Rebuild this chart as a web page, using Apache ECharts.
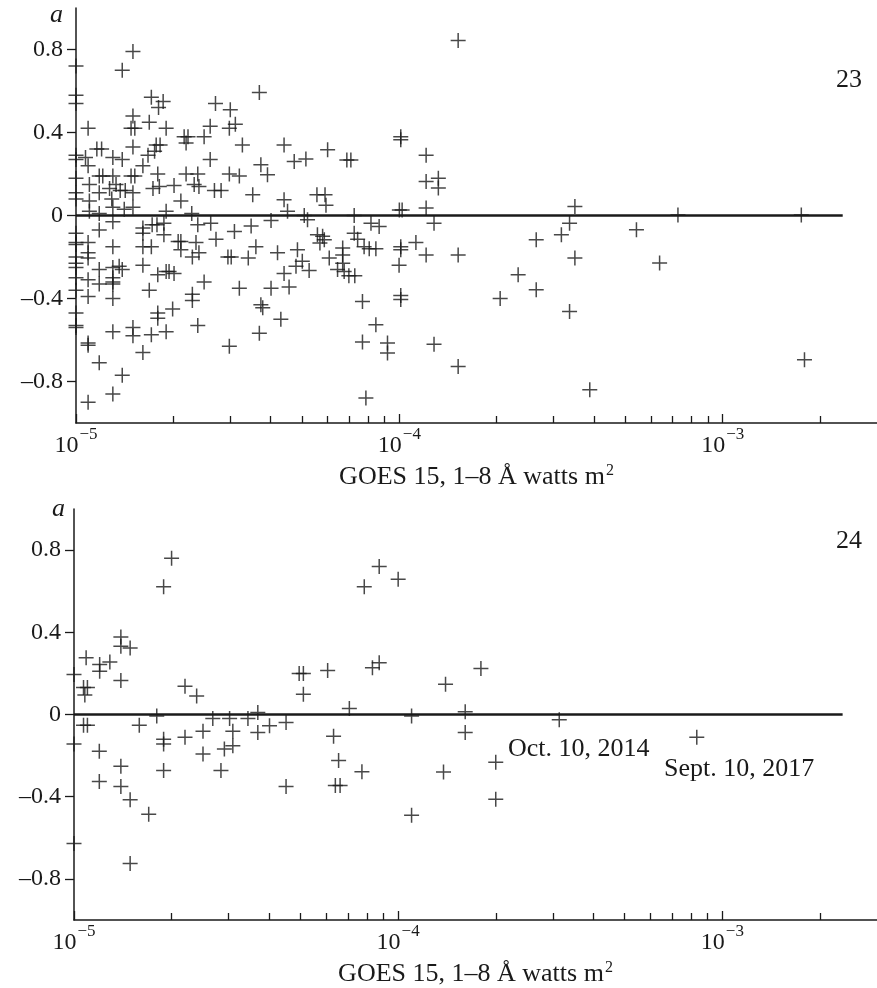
<!DOCTYPE html>
<html>
<head>
<meta charset="utf-8">
<title>a vs GOES 15 flux</title>
<script src="https://cdn.jsdelivr.net/npm/echarts@6/dist/echarts.min.js"></script>
<style>
  html, body { margin: 0; padding: 0; background: #fff; }
  #main { width: 877px; height: 988px; }
</style>
</head>
<body>
<div id="main"></div>
<script>
// cycle 23: [GOES 15 1-8 A flux (W m^-2), a]
var points23 = [
  [1e-5, 0.72], [1e-5, 0.58], [1e-5, 0.54], [1e-5, 0.29], [1e-5, 0.27], [1e-5, 0.18], [1e-5, 0.11], [1e-5, 0.08],
  [1e-5, -0.085], [1e-5, -0.13], [1e-5, -0.14], [1e-5, -0.2], [1e-5, -0.23], [1e-5, -0.25], [1e-5, -0.3],
  [1e-5, -0.36], [1e-5, -0.47], [1e-5, -0.53], [1e-5, -0.54],
  [1.50e-5, 0.79], [1.39e-5, 0.70], [1.71e-5, 0.57], [1.86e-5, 0.55], [1.80e-5, 0.52], [2.70e-5, 0.54],
  [3.00e-5, 0.51], [3.11e-5, 0.44], [2.98e-5, 0.42], [2.60e-5, 0.43], [2.49e-5, 0.38], [2.16e-5, 0.38],
  [2.22e-5, 0.38], [2.19e-5, 0.35], [1.50e-5, 0.48], [1.48e-5, 0.42], [1.52e-5, 0.42], [1.685e-5, 0.45],
  [1.90e-5, 0.42], [1.09e-5, 0.42], [1.16e-5, 0.32], [1.20e-5, 0.32], [1.30e-5, 0.28], [1.39e-5, 0.27],
  [1.50e-5, 0.33], [1.77e-5, 0.34], [1.82e-5, 0.34], [1.75e-5, 0.31], [1.67e-5, 0.29], [1.61e-5, 0.24],
  [2.60e-5, 0.27], [3.27e-5, 0.34], [2.19e-5, 0.20], [2.38e-5, 0.20], [2.40e-5, 0.14], [2.32e-5, 0.15],
  [2.68e-5, 0.12], [2.81e-5, 0.12], [2.98e-5, 0.20], [3.20e-5, 0.19], [1.79e-5, 0.20], [1.73e-5, 0.13],
  [2.01e-5, 0.145], [1.81e-5, 0.14], [2.11e-5, 0.07], [1.90e-5, 0.02], [1.18e-5, 0.19], [1.21e-5, 0.19],
  [1.10e-5, 0.15], [1.09e-5, 0.24], [1.07e-5, 0.28], [1.30e-5, 0.19], [1.18e-5, 0.11], [1.33e-5, 0.15],
  [1.37e-5, 0.12], [1.42e-5, 0.12], [1.48e-5, 0.19], [1.52e-5, 0.19], [1.10e-5, 0.07], [1.10e-5, 0.02],
  [1.18e-5, 0.01], [1.30e-5, 0.04], [1.41e-5, 0.03], [1.50e-5, 0.04], [1.50e-5, 0.11], [1.27e-5, 0.13],
  [1.29e-5, 0.08], [2.28e-5, 0.01],
  [1.09e-5, -0.13], [1.09e-5, -0.18], [1.09e-5, -0.205], [1.18e-5, -0.07], [1.30e-5, -0.03], [1.30e-5, -0.15],
  [1.18e-5, -0.26], [1.18e-5, -0.33], [1.09e-5, -0.31], [1.09e-5, -0.39], [1.30e-5, -0.30], [1.30e-5, -0.32],
  [1.30e-5, -0.33], [1.30e-5, -0.40], [1.30e-5, -0.25], [1.39e-5, -0.26], [1.36e-5, -0.245], [1.61e-5, -0.24],
  [1.61e-5, -0.15], [1.71e-5, -0.15], [1.61e-5, -0.06], [1.61e-5, -0.085], [1.72e-5, -0.045], [1.78e-5, -0.045],
  [1.87e-5, -0.037], [1.87e-5, -0.093], [1.685e-5, -0.36], [1.79e-5, -0.285], [1.90e-5, -0.27], [1.94e-5, -0.27],
  [2.01e-5, -0.28], [2.07e-5, -0.125], [2.11e-5, -0.125], [2.11e-5, -0.165], [2.29e-5, -0.20], [2.35e-5, -0.13],
  [2.40e-5, -0.18], [2.38e-5, -0.045], [2.61e-5, -0.037], [2.71e-5, -0.114], [2.49e-5, -0.32], [2.29e-5, -0.38],
  [2.29e-5, -0.41], [1.99e-5, -0.45], [1.79e-5, -0.47], [1.79e-5, -0.495], [1.30e-5, -0.56], [1.50e-5, -0.54],
  [1.50e-5, -0.58], [1.71e-5, -0.575], [1.90e-5, -0.56], [2.38e-5, -0.53], [1.09e-5, -0.615], [1.09e-5, -0.625],
  [1.61e-5, -0.66], [1.18e-5, -0.71], [1.39e-5, -0.77], [1.30e-5, -0.86], [1.09e-5, -0.90], [2.98e-5, -0.63],
  [3.09e-5, -0.077], [2.95e-5, -0.20], [3.02e-5, -0.20], [3.20e-5, -0.35], [3.41e-5, -0.205],
  [3.69e-5, 0.593], [3.73e-5, 0.244], [3.91e-5, 0.196], [3.52e-5, 0.10], [4.40e-5, 0.34], [4.73e-5, 0.26],
  [5.14e-5, 0.272], [6.00e-5, 0.317], [6.88e-5, 0.268], [7.08e-5, 0.268], [4.40e-5, 0.076], [5.56e-5, 0.10],
  [5.89e-5, 0.10], [5.93e-5, 0.05], [7.25e-5, 0.0], [1.01e-4, 0.38], [1.01e-4, 0.365], [1.21e-4, 0.29],
  [1.21e-4, 0.164], [1.32e-4, 0.18], [1.32e-4, 0.132], [1.21e-4, 0.036], [1.52e-4, 0.843],
  [3.48e-5, -0.05], [4.01e-5, -0.024], [4.51e-5, 0.02], [5.08e-5, 0.0], [5.20e-5, -0.02], [5.58e-5, -0.093],
  [5.79e-5, -0.10], [5.86e-5, -0.117], [7.25e-5, -0.085], [7.43e-5, -0.114], [8.17e-5, -0.037], [8.66e-5, -0.053],
  [1.00e-4, 0.027], [1.02e-4, 0.027], [1.01e-4, -0.15], [1.01e-4, -0.165], [1.125e-4, -0.13], [1.21e-4, -0.19],
  [9.98e-5, -0.24], [1.28e-4, -0.037], [3.60e-5, -0.15], [4.20e-5, -0.18], [4.84e-5, -0.165], [5.01e-5, -0.22],
  [4.79e-5, -0.245], [5.26e-5, -0.265], [4.40e-5, -0.28], [4.01e-5, -0.35], [4.56e-5, -0.345], [3.73e-5, -0.43],
  [3.78e-5, -0.445], [4.30e-5, -0.50], [3.69e-5, -0.567], [6.07e-5, -0.205], [6.68e-5, -0.157], [6.68e-5, -0.19],
  [6.68e-5, -0.23], [6.44e-5, -0.26], [6.75e-5, -0.27], [6.98e-5, -0.29], [7.28e-5, -0.29], [7.78e-5, -0.15],
  [8.07e-5, -0.16], [8.46e-5, -0.16], [7.69e-5, -0.415], [8.46e-5, -0.527], [7.69e-5, -0.61], [9.19e-5, -0.615],
  [9.19e-5, -0.663], [1.01e-4, -0.385], [1.01e-4, -0.405], [7.88e-5, -0.88], [1.28e-4, -0.62], [5.68e-5, -0.133],
  [1.52e-4, -0.19], [1.52e-4, -0.728], [3.49e-4, 0.043], [3.36e-4, -0.037], [3.17e-4, -0.093], [2.65e-4, -0.117],
  [3.49e-4, -0.205], [2.33e-4, -0.286], [2.65e-4, -0.358], [2.05e-4, -0.40], [3.36e-4, -0.463], [3.88e-4, -0.84],
  [5.41e-4, -0.069], [6.38e-4, -0.229], [7.27e-4, 0.003], [1.75e-3, 0.003], [1.79e-3, -0.695]
];

// cycle 24
var points24 = [
  [1e-5, 0.195], [1e-5, -0.144], [1e-5, -0.628],
  [2.00e-5, 0.76], [1.89e-5, 0.622], [1.09e-5, 0.276], [1.20e-5, 0.243], [1.20e-5, 0.211], [1.29e-5, 0.255],
  [1.395e-5, 0.377], [1.395e-5, 0.332], [1.49e-5, 0.324], [1.395e-5, 0.166], [1.07e-5, 0.131], [1.10e-5, 0.131],
  [1.08e-5, 0.095], [1.07e-5, -0.052], [1.10e-5, -0.052], [1.59e-5, -0.052], [1.80e-5, -0.007], [1.197e-5, -0.179],
  [1.197e-5, -0.326], [1.395e-5, -0.252], [1.395e-5, -0.35], [1.49e-5, -0.415], [1.70e-5, -0.486], [1.49e-5, -0.725],
  [2.20e-5, 0.138], [2.39e-5, 0.09], [1.89e-5, -0.12], [1.89e-5, -0.144], [1.89e-5, -0.273], [2.20e-5, -0.111],
  [2.50e-5, -0.082], [2.50e-5, -0.192], [2.68e-5, -0.019], [3.02e-5, -0.019], [3.09e-5, -0.082], [2.91e-5, -0.168],
  [3.09e-5, -0.152], [2.84e-5, -0.273], [3.44e-5, -0.02], [3.69e-5, 0.01], [3.69e-5, -0.087], [4.01e-5, -0.055],
  [4.51e-5, -0.039], [4.51e-5, -0.35], [4.95e-5, 0.2], [5.10e-5, 0.2], [5.10e-5, 0.098], [6.06e-5, 0.214],
  [6.32e-5, -0.106], [6.55e-5, -0.224], [6.40e-5, -0.345], [6.62e-5, -0.345], [7.07e-5, 0.029], [7.73e-5, -0.278],
  [7.86e-5, 0.622], [8.74e-5, 0.72], [1.00e-4, 0.658], [8.33e-5, 0.227], [8.74e-5, 0.252], [1.10e-4, -0.007],
  [1.10e-4, -0.49], [1.40e-4, 0.147], [1.38e-4, -0.28], [1.80e-4, 0.224], [1.61e-4, 0.013], [1.61e-4, -0.087],
  [2.00e-4, -0.232], [2.00e-4, -0.413], [3.14e-4, -0.026], [8.34e-4, -0.111]
];

var zeroLine = [[1e-5, 0], [2.35e-3, 0]];
var majorTicks = [1e-5, 1e-4, 1e-3];
var minorTicks = [2e-5, 3e-5, 4e-5, 5e-5, 6e-5, 7e-5, 8e-5, 9e-5,
  2e-4, 3e-4, 4e-4, 5e-4, 6e-4, 7e-4, 8e-4, 9e-4, 2e-3];
var yTicks = [-0.8, -0.4, 0, 0.4, 0.8];
var xName = 'GOES 15, 1–8 Å watts m{sup|2}';

var font = 'Liberation Serif';
var ink = '#1a1a1a';
var cross = 'path://M0,45H100V55H0Z M45,0H55V100H45Z';

function powLabel(v) {
  var e = Math.round(Math.log(v) / Math.LN10);
  return '{n|10}{sup|−' + Math.abs(e) + '}';
}

function aLabel(v) {
  if (Math.abs(v) < 1e-9) return '0';
  return v < 0 ? '–' + Math.abs(v) : String(v);
}

function mainX(g) {
  return {
    type: 'log', logBase: 10, gridIndex: g, min: 1e-5, max: 3e-3,
    position: 'bottom',
    name: xName, nameLocation: 'middle', nameGap: 40,
    nameTextStyle: {
      fontFamily: font, fontSize: 26, color: ink,
      rich: { sup: { fontFamily: font, fontSize: 16, color: ink, verticalAlign: 'top', padding: [0, 0, 12, 1] } }
    },
    axisLine: { onZero: false, lineStyle: { color: ink, width: 1.5 } },
    axisTick: { inside: true, length: 7, customValues: minorTicks, lineStyle: { color: ink, width: 1.3 } },
    axisLabel: {
      customValues: majorTicks, margin: 3, formatter: powLabel,
      rich: {
        n: { fontFamily: font, fontSize: 24, color: ink, lineHeight: 32, verticalAlign: 'bottom' },
        sup: { fontFamily: font, fontSize: 17, color: ink, verticalAlign: 'top', padding: [0, 0, 0, 1] }
      }
    },
    splitLine: { show: false }
  };
}

function majorX(g) {
  return {
    type: 'log', logBase: 10, gridIndex: g, min: 1e-5, max: 3e-3,
    position: 'bottom',
    axisLine: { show: false, onZero: false },
    axisTick: { inside: true, length: 9, customValues: majorTicks, lineStyle: { color: ink, width: 1.3 } },
    axisLabel: { show: false },
    splitLine: { show: false }
  };
}

function mainY(g) {
  return {
    type: 'value', gridIndex: g, min: -1, max: 1,
    axisLine: { onZero: false, lineStyle: { color: ink, width: 1.5 } },
    axisTick: { length: 9, customValues: yTicks, lineStyle: { color: ink, width: 1.3 } },
    axisLabel: { customValues: yTicks, margin: 13, formatter: aLabel, fontFamily: font, fontSize: 24, color: ink },
    splitLine: { show: false }
  };
}

function crosses(data, xi) {
  return {
    type: 'scatter', xAxisIndex: xi, yAxisIndex: xi, data: data,
    symbol: cross, symbolSize: 15, clip: false,
    itemStyle: { color: ink }, z: 3
  };
}

function zero(xi) {
  return {
    type: 'line', xAxisIndex: xi, yAxisIndex: xi, data: zeroLine,
    symbol: 'none', lineStyle: { color: ink, width: 2.5 }, z: 2
  };
}

function txt(s, x, y, size, extra) {
  var st = { text: s, x: x, y: y, font: (extra || '') + size + 'px "Liberation Serif"', fill: ink, align: 'left', verticalAlign: 'middle' };
  return { type: 'text', style: st, z: 10 };
}

var chart = echarts.init(document.getElementById('main'));
chart.setOption({
  animation: false,
  backgroundColor: '#fff',
  grid: [
    { left: 76, top: 8, width: 801, height: 415 },
    { left: 74, top: 509, width: 803, height: 413 }
  ],
  xAxis: [mainX(0), mainX(1), majorX(0), majorX(1)],
  yAxis: [mainY(0), mainY(1)],
  series: [zero(0), crosses(points23, 0), zero(1), crosses(points24, 1)],
  graphic: [
    txt('a', 50, 15, 26, 'italic '),
    txt('a', 52, 509, 26, 'italic '),
    txt('23', 836, 80, 26),
    txt('24', 836, 541, 26),
    txt('Oct. 10, 2014', 508, 749, 26),
    txt('Sept. 10, 2017', 664, 769, 26)
  ]
});
</script>
</body>
</html>
